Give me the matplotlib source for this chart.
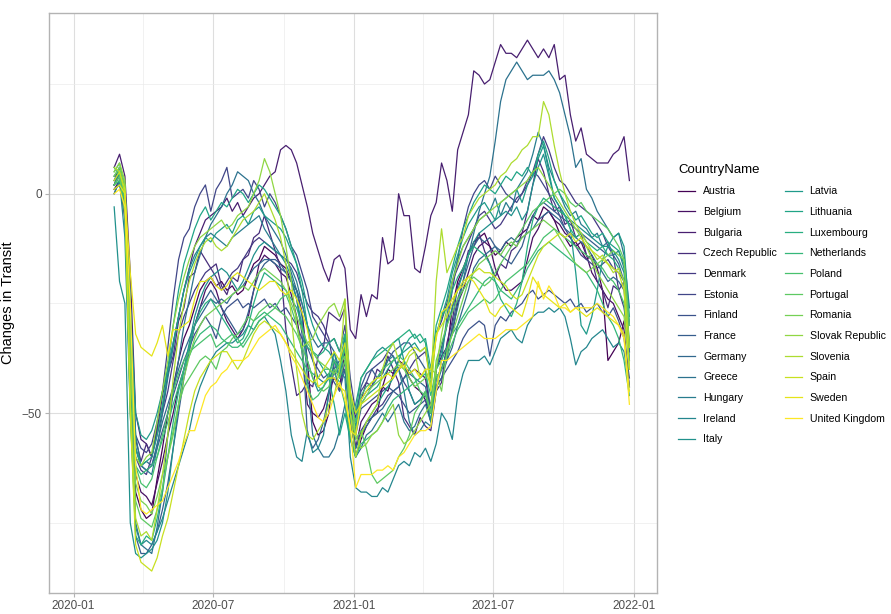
import matplotlib
matplotlib.use("Agg")
import matplotlib.pyplot as plt
import matplotlib.dates as mdates
import numpy as np
import pandas as pd
from datetime import datetime

plt.rcParams['font.family'] = ['Liberation Sans', 'DejaVu Sans']

# weekly averages, 2020-02-23 .. 2021-12-26
weeks = pd.date_range('2020-02-23', periods=97, freq='7D')

countries = ['Austria', 'Belgium', 'Bulgaria', 'Czech Republic', 'Denmark', 'Estonia',
             'Finland', 'France', 'Germany', 'Greece', 'Hungary', 'Ireland', 'Italy',
             'Latvia', 'Lithuania', 'Luxembourg', 'Netherlands', 'Poland', 'Portugal',
             'Romania', 'Slovak Republic', 'Slovenia', 'Spain', 'Sweden', 'United Kingdom']

austria = [2, 5, -2, -35, -68, -72, -74, -73, -65, -58,
           -50, -44, -38, -33, -30, -26, -22, -20, -19, -21,
           -20, -22, -21, -23, -22, -19, -16, -15, -12, -13,
           -14, -16, -17, -20, -22, -27, -38, -52, -55, -54,
           -50, -38, -40, -33, -50, -60, -56, -53, -51, -50,
           -44, -40, -41, -38, -39, -42, -44, -45, -47, -52,
           -42, -40, -36, -26, -20, -17, -14, -11, -10, -9,
           -12, -14, -13, -11, -12, -10, -9, -8, -5, -6,
           -3, -4, -6, -9, -10, -12, -11, -13, -15, -14,
           -17, -22, -38, -36, -34, -29, -36]
belgium = [1, 3, 0, -30, -64, -68, -69, -71, -66, -61,
           -55, -50, -44, -40, -35, -30, -26, -22, -20, -22,
           -26, -29, -31, -33, -31, -28, -22, -16, -14, -15,
           -16, -18, -19, -23, -28, -36, -48, -50, -51, -49,
           -45, -42, -44, -36, -48, -58, -52, -50, -48, -47,
           -44, -45, -41, -40, -39, -41, -40, -41, -42, -50,
           -40, -37, -35, -32, -25, -22, -18, -14, -12, -11,
           -12, -17, -20, -22, -22, -21, -20, -15, -10, -8,
           -5, -4, -6, -7, -9, -10, -12, -11, -14, -18,
           -20, -22, -24, -25, -28, -31, -44]
bulgaria = [6, 9, 4, -18, -50, -56, -57, -60, -54, -46,
            -40, -34, -28, -22, -17, -12, -9, -6, -5, -4,
            -3, -1, -4, -2, -5, -3, -1, 0, 2, 4,
            5, 10, 11, 10, 7, 2, -3, -9, -13, -17,
            -20, -15, -14, -17, -31, -33, -23, -28, -23, -24,
            -10, -16, -15, 0, -5, -5, -17, -18, -12, -5,
            -2, 7, 3, -4, 10, 14, 18, 28, 27, 25,
            26, 30, 34, 32, 32, 31, 33, 35, 33, 31,
            33, 31, 34, 26, 27, 18, 12, 15, 9, 8,
            7, 7, 7, 9, 10, 13, 3]
czech = [0, 3, -6, -40, -56, -61, -57, -60, -53, -49,
         -41, -37, -29, -26, -19, -18, -13, -15, -17, -16,
         -21, -23, -19, -20, -15, -14, -10, -9, -5, -9,
         -13, -17, -31, -39, -46, -45, -43, -44, -37, -35,
         -27, -28, -29, -26, -46, -51, -47, -43, -44, -40,
         -41, -37, -40, -43, -51, -53, -55, -51, -53, -54,
         -45, -43, -34, -29, -21, -18, -13, -12, -9, -13,
         -16, -19, -16, -17, -13, -12, -9, -4, 2, 8,
         5, 0, -4, -3, -7, -6, -10, -9, -14, -15,
         -20, -22, -26, -21, -22, -20, -35]
denmark = [4, 5, 0, -45, -60, -63, -64, -60, -55, -50,
           -45, -38, -32, -28, -25, -22, -20, -18, -17, -19,
           -22, -20, -18, -17, -15, -13, -11, -10, -11, -12,
           -13, -14, -15, -16, -18, -22, -25, -27, -28, -30,
           -33, -40, -45, -38, -52, -58, -54, -52, -51, -49,
           -48, -46, -45, -44, -42, -40, -38, -37, -36, -42,
           -32, -29, -25, -20, -17, -14, -11, -8, -5, -4,
           -6, -8, -7, -5, -3, -1, 0, 2, 5, 9,
           13, 10, 6, 3, 2, 0, -2, -3, -4, -5,
           -7, -9, -12, -14, -22, -26, -35]
estonia = [3, 6, 0, -30, -55, -58, -59, -57, -52, -45,
           -35, -24, -15, -10, -8, -3, 0, 2, -4, 1,
           3, 6, -1, 0, 1, -1, 3, 1, -3, 0,
           -2, -5, -8, -12, -14, -18, -22, -28, -30, -32,
           -34, -33, -36, -30, -42, -50, -45, -43, -40, -39,
           -38, -36, -37, -40, -43, -45, -48, -47, -46, -48,
           -40, -35, -30, -22, -15, -8, -3, 0, 2, 3,
           1, 4, 2, 0, -1, -2, 0, 3, 5, 4,
           2, 0, -2, -5, -8, -10, -12, -14, -15, -16,
           -17, -16, -15, -17, -18, -20, -30]
finland = [2, 4, -1, -35, -58, -62, -63, -62, -58, -54,
           -50, -46, -42, -38, -35, -32, -30, -28, -30, -33,
           -28, -26, -25, -24, -26, -25, -26, -25, -24, -26,
           -25, -27, -26, -28, -30, -33, -35, -38, -40, -42,
           -41, -43, -45, -40, -50, -55, -49, -48, -47, -46,
           -45, -44, -45, -46, -48, -50, -49, -48, -47, -50,
           -44, -42, -40, -38, -36, -33, -31, -30, -29, -30,
           -37, -30, -28, -29, -27, -26, -25, -23, -22, -24,
           -23, -22, -23, -24, -25, -24, -26, -25, -27, -26,
           -25, -27, -28, -26, -29, -33, -42]
france = [1, 2, -2, -40, -78, -82, -82, -80, -77, -72,
          -66, -58, -50, -42, -36, -30, -26, -24, -22, -24,
          -26, -28, -30, -32, -31, -27, -22, -18, -16, -15,
          -15, -16, -18, -20, -24, -32, -55, -58, -56, -52,
          -46, -40, -38, -35, -48, -52, -44, -41, -40, -42,
          -41, -38, -36, -35, -34, -34, -36, -38, -40, -50,
          -44, -42, -38, -30, -24, -20, -16, -12, -10, -11,
          -10, -12, -14, -15, -16, -14, -12, -8, -5, -3,
          -2, -3, -4, -5, -6, -7, -8, -9, -10, -11,
          -12, -13, -14, -14, -16, -20, -38]
germany = [3, 4, 0, -30, -58, -62, -61, -62, -57, -52,
           -48, -44, -40, -36, -33, -30, -28, -26, -24, -25,
           -24, -25, -23, -22, -21, -19, -17, -16, -15, -15,
           -16, -17, -18, -20, -22, -25, -30, -33, -35, -34,
           -34, -36, -42, -40, -52, -58, -55, -53, -51, -50,
           -49, -47, -45, -44, -42, -41, -42, -43, -44, -50,
           -42, -40, -38, -35, -30, -26, -22, -17, -15, -14,
           -13, -12, -13, -11, -10, -11, -10, -9, -8, -6,
           -5, -4, -5, -6, -8, -9, -10, -11, -12, -14,
           -16, -18, -20, -19, -20, -22, -36]
greece = [2, 4, -3, -48, -75, -80, -81, -82, -76, -68,
          -55, -45, -38, -30, -24, -18, -14, -10, -7, -5,
          -3, 0, 2, 5, 4, 3, 0, -2, -5, -7,
          -9, -11, -14, -18, -22, -28, -42, -55, -58, -60,
          -60, -58, -54, -48, -56, -60, -58, -55, -54, -52,
          -50, -52, -50, -48, -52, -54, -53, -50, -48, -52,
          -44, -40, -36, -31, -26, -20, -14, -9, -4, 0,
          4, 12, 21, 26, 28, 30, 28, 26, 27, 27,
          27, 28, 26, 23, 18, 13, 6, 8, 1, -1,
          -4, -6, -8, -10, -9, -14, -26]
hungary = [2, 5, 0, -25, -55, -62, -63, -64, -58, -50,
           -42, -35, -28, -22, -17, -14, -12, -10, -9, -10,
           -11, -12, -10, -9, -8, -7, -6, -5, -8, -10,
           -12, -14, -15, -17, -20, -25, -30, -38, -42, -43,
           -42, -40, -41, -33, -48, -54, -47, -45, -44, -42,
           -40, -38, -37, -40, -45, -52, -55, -54, -52, -53,
           -45, -38, -28, -20, -15, -12, -10, -8, -6, -5,
           -4, -1, -5, -2, -4, 1, 3, 5, 9, 14,
           11, 6, 3, 0, -3, -5, -4, -7, -8, -10,
           -9, -12, -11, -14, -13, -17, -30]
ireland = [0, 3, -10, -50, -76, -80, -79, -80, -77, -74,
           -70, -66, -62, -58, -54, -48, -44, -41, -38, -36,
           -35, -34, -34, -33, -32, -30, -31, -29, -28, -30,
           -32, -38, -45, -55, -60, -61, -54, -59, -58, -55,
           -45, -38, -40, -42, -60, -67, -68, -68, -69, -69,
           -67, -68, -65, -62, -61, -62, -59, -60, -58, -61,
           -57, -50, -52, -56, -46, -41, -38, -38, -38, -37,
           -39, -36, -33, -32, -31, -33, -34, -30, -28, -27,
           -27, -26, -27, -26, -28, -33, -39, -36, -35, -33,
           -32, -31, -33, -35, -34, -36, -44]
italy = [-3, -20, -25, -75, -82, -83, -82, -81, -79, -75,
         -68, -58, -48, -40, -34, -28, -24, -21, -19, -18,
         -17, -18, -20, -22, -20, -17, -14, -12, -11, -12,
         -13, -14, -16, -19, -24, -30, -38, -42, -45, -44,
         -42, -36, -40, -32, -52, -48, -42, -40, -38, -36,
         -35, -36, -34, -33, -38, -45, -48, -47, -45, -52,
         -40, -36, -30, -26, -22, -18, -14, -11, -9, -8,
         -7, -6, -5, -4, -5, -3, -6, -4, 2, 6,
         9, 4, -1, -3, -5, -6, -7, -8, -9, -10,
         -11, -12, -12, -13, -15, -18, -34]
latvia = [4, 6, 2, -25, -50, -55, -56, -54, -50, -45,
          -40, -34, -28, -22, -18, -15, -12, -10, -11, -9,
          -8, -7, -9, -6, -5, -7, -4, -3, -5, -6,
          -7, -8, -10, -13, -16, -20, -26, -30, -33, -35,
          -36, -38, -42, -35, -47, -53, -48, -46, -45, -44,
          -42, -40, -38, -37, -36, -35, -34, -36, -35, -42,
          -32, -28, -24, -18, -14, -10, -7, -5, -3, -2,
          -4, -6, -2, -1, 0, 1, -2, 2, 4, 8,
          11, 5, -1, -3, -5, -8, -18, -30, -32, -28,
          -22, -15, -12, -10, -9, -12, -28]
lithuania = [5, 7, 1, -30, -58, -62, -61, -60, -55, -48,
             -40, -30, -22, -16, -12, -8, -5, -3, -6, -4,
             -2, -3, -1, 1, 0, -2, 0, 2, 1, -1,
             -3, -5, -8, -12, -16, -22, -30, -36, -38, -40,
             -42, -48, -55, -50, -56, -60, -55, -52, -50, -48,
             -46, -44, -42, -38, -35, -33, -32, -34, -33, -40,
             -30, -26, -22, -17, -12, -8, -5, -2, 0, 2,
             1, 0, 2, 4, 3, 5, 4, 6, 4, 9,
             12, 8, 3, 0, -2, -4, -6, -5, -7, -9,
             -10, -9, -11, -12, -13, -16, -30]
luxembourg = [6, 4, -2, -50, -78, -80, -78, -79, -74, -68,
              -60, -52, -45, -40, -35, -30, -27, -25, -24, -26,
              -28, -30, -32, -34, -33, -30, -25, -21, -18, -19,
              -20, -21, -22, -24, -26, -30, -35, -36, -37, -36,
              -34, -33, -36, -32, -46, -50, -42, -40, -38, -37,
              -36, -35, -34, -33, -32, -31, -33, -32, -34, -44,
              -32, -28, -26, -22, -19, -17, -14, -12, -13, -14,
              -16, -20, -24, -26, -28, -25, -20, -12, -6, -3,
              -1, -2, -3, -4, -5, -8, -10, -9, -11, -12,
              -13, -12, -14, -15, -17, -20, -40]
netherlands = [2, 3, 0, -40, -62, -64, -63, -62, -60, -56,
               -52, -48, -44, -40, -37, -34, -32, -31, -30, -31,
               -33, -34, -35, -35, -34, -32, -29, -28, -27, -28,
               -29, -30, -32, -34, -36, -38, -40, -41, -42, -40,
               -40, -41, -43, -48, -55, -60, -57, -56, -55, -54,
               -52, -49, -47, -46, -45, -44, -43, -42, -41, -46,
               -40, -38, -35, -32, -30, -28, -26, -24, -22, -20,
               -19, -20, -22, -23, -24, -22, -20, -17, -15, -13,
               -12, -11, -12, -13, -14, -15, -16, -17, -18, -20,
               -22, -25, -28, -30, -33, -38, -46]
poland = [3, 5, -2, -40, -62, -66, -67, -65, -60, -55,
          -50, -45, -41, -38, -36, -35, -34, -33, -32, -35,
          -34, -33, -32, -33, -35, -33, -31, -29, -28, -27,
          -26, -24, -23, -26, -30, -36, -44, -47, -46, -44,
          -41, -38, -40, -35, -48, -52, -46, -44, -43, -42,
          -40, -39, -38, -37, -38, -40, -42, -45, -46, -50,
          -42, -40, -37, -34, -31, -29, -27, -26, -25, -24,
          -25, -24, -22, -20, -19, -18, -17, -16, -14, -12,
          -10, -9, -8, -9, -10, -11, -12, -13, -14, -15,
          -16, -17, -19, -20, -22, -25, -38]
portugal = [2, 4, -5, -45, -70, -74, -75, -76, -72, -67,
            -60, -54, -48, -44, -42, -40, -38, -37, -38, -40,
            -36, -35, -33, -32, -30, -28, -29, -27, -26, -25,
            -26, -27, -28, -30, -32, -35, -38, -42, -44, -45,
            -44, -40, -42, -38, -50, -56, -54, -58, -64, -66,
            -65, -64, -63, -60, -58, -55, -50, -48, -45, -50,
            -38, -34, -30, -27, -24, -22, -20, -19, -20, -21,
            -20, -18, -16, -14, -12, -10, -8, -6, -4, -3,
            -2, -1, 0, 1, 0, -2, -3, -2, -4, -5,
            -6, -7, -8, -10, -12, -15, -30]
romania = [4, 6, 2, -32, -66, -70, -71, -73, -69, -64,
           -60, -55, -48, -42, -37, -33, -30, -28, -27, -26,
           -25, -24, -23, -22, -21, -22, -20, -18, -17, -18,
           -19, -20, -22, -25, -28, -31, -34, -36, -38, -39,
           -40, -41, -39, -37, -50, -55, -48, -46, -44, -43,
           -42, -41, -40, -39, -40, -42, -44, -43, -42, -40,
           -41, -45, -36, -32, -28, -24, -20, -18, -16, -15,
           -14, -13, -14, -12, -11, -12, -10, -9, -8, -7,
           -6, -7, -8, -10, -12, -14, -16, -17, -18, -17,
           -16, -15, -14, -13, -14, -15, -35]
slovakia = [5, 7, 3, -38, -60, -62, -60, -59, -52, -45,
            -38, -30, -24, -19, -15, -12, -10, -9, -8, -7,
            -6, -8, -7, -5, -4, -3, 0, 3, 8, 5,
            0, -5, -12, -20, -30, -35, -34, -33, -30, -28,
            -26, -25, -28, -24, -45, -55, -58, -57, -55, -54,
            -52, -50, -48, -55, -57, -56, -54, -52, -50, -48,
            -40, -32, -26, -20, -16, -12, -10, -8, -6, -5,
            -4, -3, -2, -1, 0, 1, 2, 3, 5, 6,
            4, 2, 0, -2, -4, -6, -8, -10, -12, -15,
            -18, -20, -22, -24, -26, -28, -40]
slovenia = [6, 5, 0, -48, -74, -78, -77, -79, -72, -64,
            -55, -42, -32, -25, -20, -16, -13, -11, -10, -12,
            -13, -12, -10, -8, -6, -5, -4, -2, 0, -3,
            -6, -10, -16, -28, -40, -50, -55, -56, -54, -52,
            -48, -46, -40, -24, -50, -60, -55, -52, -50, -48,
            -40, -36, -34, -38, -40, -37, -36, -42, -40, -44,
            -20, -8, -18, -15, -12, -10, -5, -3, -1, 0,
            1, 2, 4, 5, 7, 8, 10, 11, 13, 13,
            21, 18, 11, 5, 0, -4, -7, -9, -11, -13,
            -15, -14, -16, -18, -17, -20, -35]
spain = [3, 5, 1, -50, -80, -84, -85, -86, -83, -78,
         -74, -68, -62, -56, -50, -45, -42, -40, -38, -37,
         -36, -36, -38, -40, -38, -35, -32, -30, -29, -30,
         -31, -32, -34, -36, -38, -40, -42, -43, -42, -40,
         -38, -36, -38, -34, -45, -50, -48, -47, -46, -45,
         -44, -43, -42, -40, -38, -36, -35, -36, -35, -45,
         -32, -30, -28, -25, -22, -20, -19, -18, -17, -18,
         -18, -19, -20, -21, -23, -24, -23, -20, -17, -14,
         -12, -11, -10, -9, -10, -9, -11, -10, -12, -13,
         -14, -15, -16, -17, -18, -22, -40]
sweden = [1, 2, 0, -18, -32, -35, -36, -37, -34, -30,
          -37, -31, -31, -30, -29, -24, -20, -20, -19, -21,
          -22, -21, -19, -18, -19, -20, -21, -22, -21, -20,
          -20, -22, -23, -22, -24, -27, -31, -37, -44, -43,
          -42, -42, -44, -45, -54, -55, -47, -45, -43, -42,
          -42, -41, -42, -40, -39, -41, -40, -42, -40, -40,
          -33, -27, -26, -24, -22, -21, -19, -20, -22, -24,
          -27, -28, -26, -25, -26, -27, -28, -24, -19, -21,
          -23, -24, -25, -26, -25, -27, -26, -27, -28, -27,
          -26, -27, -28, -29, -30, -32, -45]
uk = [0, 1, -3, -25, -62, -72, -73, -72, -71, -70,
      -67, -64, -61, -57, -54, -54, -50, -46, -44, -43,
      -41, -40, -38, -38, -38, -37, -35, -33, -32, -31,
      -30, -32, -34, -37, -39, -42, -45, -48, -51, -52,
      -50, -46, -43, -47, -53, -67, -64, -64, -64, -63,
      -63, -62, -63, -60, -59, -57, -55, -54, -54, -53,
      -45, -38, -38, -37, -36, -35, -34, -33, -32, -33,
      -33, -33, -32, -31, -31, -31, -30, -29, -28, -20,
      -24, -21, -23, -26, -26, -27, -26, -26, -26, -26,
      -25, -26, -27, -28, -30, -33, -48]

values = [austria, belgium, bulgaria, czech, denmark, estonia, finland, france,
          germany, greece, hungary, ireland, italy, latvia, lithuania, luxembourg,
          netherlands, poland, portugal, romania, slovakia, slovenia, spain, sweden, uk]

colors = plt.cm.viridis(np.linspace(0, 1, len(countries)))

fig = plt.figure(figsize=(8.91, 6.14), dpi=100)
ax = fig.add_axes([49 / 891, 21 / 614, 608 / 891, 580.5 / 614])

for name, vals, col in zip(countries, values, colors):
    ax.plot(weeks, vals, color=col, lw=0.9, label=name)

ax.set_xlim(datetime(2019, 11, 30), datetime(2022, 1, 31))
ax.set_ylim(-91, 41.3)
ax.xaxis.set_major_locator(mdates.MonthLocator(bymonth=[1, 7]))
ax.xaxis.set_major_formatter(mdates.DateFormatter('%Y-%m'))
ax.xaxis.set_minor_locator(mdates.MonthLocator(bymonth=[4, 10]))
ax.set_yticks([-50, 0])
ax.set_yticks([-75, -25, 25], minor=True)

ax.grid(which='major', color='#DEDEDE', lw=0.8)
ax.grid(which='minor', color='#EBEBEB', lw=0.5)
ax.set_axisbelow(True)
for s in ax.spines.values():
    s.set_color('#B3B3B3')
    s.set_linewidth(1.0)
ax.tick_params(which='major', length=3, color='#B3B3B3', labelcolor='#4D4D4D',
               labelsize=8.5, pad=2)
ax.tick_params(which='minor', length=0)

ax.set_ylabel('Changes in Transit', fontsize=10.5)
ax.yaxis.set_label_coords(-0.056, 0.5)

leg = ax.legend(title='CountryName', ncol=2, loc='upper left',
                bbox_to_anchor=(673 / 891, 1 - 158.5 / 614), bbox_transform=fig.transFigure,
                frameon=False, fontsize=7.6, title_fontsize=9.5, handlelength=1.6,
                handletextpad=0.75, labelspacing=1.01, columnspacing=0.75,
                borderpad=0, alignment='left')

fig.savefig('out.png', dpi=100)
